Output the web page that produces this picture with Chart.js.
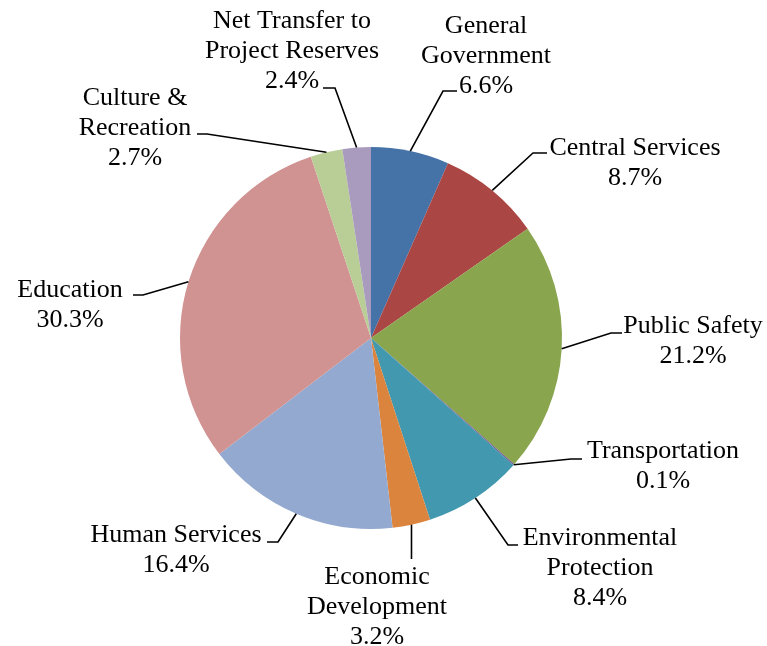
<!DOCTYPE html>
<html>
<head>
<meta charset="utf-8">
<script src="https://cdn.jsdelivr.net/npm/chart.js@4/dist/chart.umd.min.js"></script>
<style>
  html, body { margin: 0; padding: 0; background: #ffffff; }
  #wrap { width: 767px; height: 646px; position: relative; }
</style>
</head>
<body>
<div id="wrap"><canvas id="c" width="767" height="646"></canvas></div>
<script>
// ---- Data ----
const categories = [
  ["General", "Government"],
  ["Central Services"],
  ["Public Safety"],
  ["Transportation"],
  ["Environmental", "Protection"],
  ["Economic", "Development"],
  ["Human Services"],
  ["Education"],
  ["Culture &", "Recreation"],
  ["Net Transfer to", "Project Reserves"]
];
const shares = [6.6, 8.7, 21.2, 0.1, 8.4, 3.2, 16.4, 30.3, 2.7, 2.4];
const sliceColors = ["#4572A7", "#AA4643", "#89A54E", "#71588F", "#4198AF",
                     "#DB843D", "#93A9CF", "#D19392", "#B9CD96", "#A99BBD"];

// ---- Label layout (text centre x, first baseline y, leader elbow, leader end x) ----
const labelLayout = [
  { tx: 486, ty: 33,  elbow: [443, 91],  endX: 457 },
  { tx: 635, ty: 155, elbow: [533, 153], endX: 547 },
  { tx: 693, ty: 333, elbow: [611, 333], endX: 622 },
  { tx: 663, ty: 458, elbow: [571, 459], endX: 582 },
  { tx: 600, ty: 545, elbow: [508, 545], endX: 518 },
  { tx: 377, ty: 584, elbow: null,       endX: null, vertEnd: 559 },
  { tx: 176, ty: 542, elbow: [278, 542], endX: 267 },
  { tx: 70,  ty: 297, elbow: [143, 295], endX: 133 },
  { tx: 135, ty: 105, elbow: [207, 134], endX: 197 },
  { tx: 292, ty: 28,  elbow: [335, 88],  endX: 323 }
];
const LINE_H = 30;

const labelPlugin = {
  id: 'pieLabels',
  afterDatasetsDraw(chart) {
    const ctx = chart.ctx;
    const meta = chart.getDatasetMeta(0);
    ctx.save();
    ctx.strokeStyle = '#000000';
    ctx.lineWidth = 1.6;
    ctx.fillStyle = '#000000';
    ctx.font = '26px "Liberation Serif", "Times New Roman", serif';
    ctx.textAlign = 'center';
    ctx.textBaseline = 'alphabetic';
    meta.data.forEach((arc, i) => {
      const p = arc.getProps(['x', 'y', 'startAngle', 'endAngle', 'outerRadius'], true);
      const mid = (p.startAngle + p.endAngle) / 2;
      const ax = p.x + Math.cos(mid) * p.outerRadius;
      const ay = p.y + Math.sin(mid) * p.outerRadius;
      const L = labelLayout[i];
      ctx.beginPath();
      ctx.moveTo(ax, ay);
      if (L.elbow) {
        ctx.lineTo(L.elbow[0], L.elbow[1]);
        ctx.lineTo(L.endX, L.elbow[1]);
      } else {
        ctx.lineTo(ax, L.vertEnd);
      }
      ctx.stroke();
      const lines = categories[i].concat([shares[i].toFixed(1) + '%']);
      lines.forEach((t, k) => ctx.fillText(t, L.tx, L.ty + k * LINE_H));
    });
    ctx.restore();
  }
};

new Chart(document.getElementById('c'), {
  type: 'pie',
  data: {
    labels: categories.map(c => c.join(' ')),
    datasets: [{
      data: shares,
      backgroundColor: sliceColors,
      borderWidth: 0,
      hoverOffset: 0
    }]
  },
  options: {
    responsive: false,
    animation: false,
    devicePixelRatio: 1,
    layout: { padding: { left: 180, right: 205, top: 147, bottom: 117 } },
    plugins: {
      legend: { display: false },
      tooltip: { enabled: false }
    }
  },
  plugins: [labelPlugin]
});
</script>
</body>
</html>
